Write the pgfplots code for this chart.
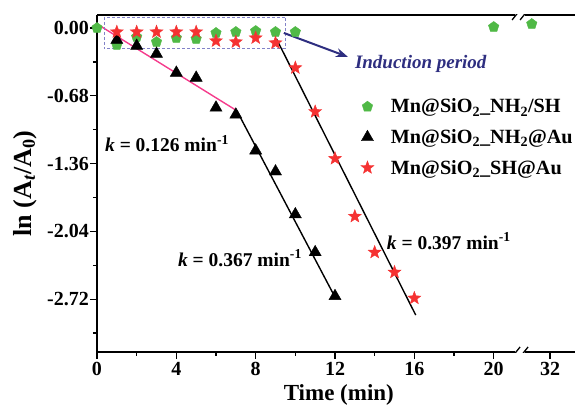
\documentclass[border=0pt]{standalone}
\usepackage{pgfplots}
\pgfplotsset{compat=1.18}
\usepackage{fontspec}
\setmainfont{Liberation Serif}
\usetikzlibrary{arrows.meta}

\definecolor{ptgreen}{RGB}{80,185,70}
\definecolor{ptred}{RGB}{245,50,50}
\definecolor{fitpink}{RGB}{245,60,140}
\definecolor{navy}{RGB}{46,46,128}
\definecolor{boxblue}{RGB}{130,130,200}

% filled five-pointed star
\pgfdeclareplotmark{fstar}{%
  \pgfpathmoveto{\pgfpointpolar{90}{\pgfplotmarksize}}%
  \pgfpathlineto{\pgfpointpolar{126}{0.42\pgfplotmarksize}}%
  \pgfpathlineto{\pgfpointpolar{162}{\pgfplotmarksize}}%
  \pgfpathlineto{\pgfpointpolar{198}{0.42\pgfplotmarksize}}%
  \pgfpathlineto{\pgfpointpolar{234}{\pgfplotmarksize}}%
  \pgfpathlineto{\pgfpointpolar{270}{0.42\pgfplotmarksize}}%
  \pgfpathlineto{\pgfpointpolar{306}{\pgfplotmarksize}}%
  \pgfpathlineto{\pgfpointpolar{342}{0.42\pgfplotmarksize}}%
  \pgfpathlineto{\pgfpointpolar{18}{\pgfplotmarksize}}%
  \pgfpathlineto{\pgfpointpolar{54}{0.42\pgfplotmarksize}}%
  \pgfpathclose
  \pgfusepathqfillstroke}

\begin{document}
\begin{tikzpicture}
\begin{axis}[
    width=478pt, height=337pt,
    scale only axis,
    xmin=0, xmax=24.1,
    ymin=-3.25, ymax=0.13,
    axis y line*=left,
    axis line style={line width=1.3pt},
    tick style={line width=1.3pt, black},
    tick align=outside,
    major tick length=7pt,
    minor tick length=4pt,
    xtick pos=bottom,
    xtick={0,4,8,12,16,20,22.84},
    xticklabels={0,4,8,12,16,20,32},
    minor xtick={2,6,10,14,18},
    ytick={0,-0.68,-1.36,-2.04,-2.72},
    yticklabels={0.00,-0.68,-1.36,-2.04,-2.72},
    minor ytick={-0.34,-1.02,-1.70,-2.38,-3.06},
    tick label style={font=\fontsize{20}{22}\selectfont\bfseries},
    yticklabel style={inner sep=1pt},
    xlabel={Time (min)},
    ylabel={ln (A\textsubscript{\textit{t}}/A\textsubscript{0})},
    xlabel style={font=\fontsize{23}{25}\selectfont\bfseries, at={(axis description cs:0.506,-0.128)}, anchor=center},
    ylabel style={font=\fontsize{26}{28}\selectfont\bfseries, at={(axis description cs:-0.1506,0.5)}, anchor=center},
    legend style={at={(axis cs:13.3,-0.69)}, anchor=north west, draw=none, fill=none,
        font=\fontsize{20.2}{22}\selectfont\bfseries, row sep=11pt, column sep=15pt, inner sep=0pt},
    legend cell align=left,
]

% fitted lines
\addplot[fitpink, line width=1.4pt, forget plot] coordinates {(0,0.04)(7.05,-0.83)};
\addplot[black, line width=1.4pt, forget plot] coordinates {(7.05,-0.83)(12,-2.70)};
\addplot[black, line width=1.4pt, forget plot] coordinates {(9.05,-0.11)(16.07,-2.88)};

\addplot[only marks, mark=pentagon*, mark size=5.5pt, color=ptgreen] coordinates {
(0,0)(1,-0.17)(2,-0.09)(3,-0.14)(4,-0.10)(5,-0.11)(6,-0.05)(7,-0.04)(8,-0.03)(9,-0.04)(10,-0.04)(20,0.01)(21.92,0.04)
};
\addlegendentry{Mn@SiO\textsubscript{2}\_NH\textsubscript{2}/SH}

\addplot[only marks, mark=triangle*, mark size=7pt, color=black] coordinates {
(1,-0.12)(2,-0.18)(3,-0.26)(4,-0.45)(5,-0.50)(6,-0.80)(7,-0.87)(8,-1.23)(9,-1.44)(10,-1.87)(11,-2.25)(12,-2.69)
};
\addlegendentry{Mn@SiO\textsubscript{2}\_NH\textsubscript{2}@Au}

\addplot[only marks, mark=fstar, mark size=6.8pt, color=ptred] coordinates {
(1,-0.04)(2,-0.04)(3,-0.04)(4,-0.04)(5,-0.04)(6,-0.13)(7,-0.14)(8,-0.10)(9,-0.15)(10,-0.40)(11,-0.84)(12,-1.31)(13,-1.89)(14,-2.25)(15,-2.45)(16,-2.71)
};
\addlegendentry{Mn@SiO\textsubscript{2}\_SH@Au}

% induction period box and arrow
\draw[boxblue, densely dashed, line width=0.8pt] (axis cs:0.37,0.11) rectangle (axis cs:9.48,-0.21);
\draw[navy, line width=2pt, -{Stealth[length=12pt,width=9pt]}] (axis cs:9.42,-0.05) -- (axis cs:12.65,-0.29);
\node[anchor=west, navy, font=\fontsize{19}{21}\selectfont\bfseries\itshape, inner sep=0pt] at (axis cs:13.0,-0.36) {Induction period};

% rate constants
\node[anchor=west, inner sep=0pt, font=\fontsize{19.5}{22}\selectfont\bfseries] at (axis cs:0.40,-1.16) {\textit{k} = 0.126 min\textsuperscript{-1}};
\node[anchor=west, inner sep=0pt, font=\fontsize{19.5}{22}\selectfont\bfseries] at (axis cs:4.08,-2.31) {\textit{k} = 0.367 min\textsuperscript{-1}};
\node[anchor=west, inner sep=0pt, font=\fontsize{19.5}{22}\selectfont\bfseries] at (axis cs:14.61,-2.14) {\textit{k} = 0.397 min\textsuperscript{-1}};

% axis breaks
\fill[white] ([shift={(-5pt,-3pt)}]axis cs:21.33,-3.25) rectangle ([shift={(5pt,3pt)}]axis cs:21.33,-3.25);
\fill[white] ([shift={(-5pt,-3pt)}]axis cs:21.33,0.13) rectangle ([shift={(5pt,3pt)}]axis cs:21.33,0.13);
\draw[line width=1.3pt] ([shift={(-8pt,-5pt)}]axis cs:21.33,-3.25) -- ++(8pt,10pt);
\draw[line width=1.3pt] ([shift={(0pt,-5pt)}]axis cs:21.33,-3.25) -- ++(8pt,10pt);
\draw[line width=1.3pt] ([shift={(-8pt,-5pt)}]axis cs:21.33,0.13) -- ++(8pt,10pt);
\draw[line width=1.3pt] ([shift={(0pt,-5pt)}]axis cs:21.33,0.13) -- ++(8pt,10pt);
\end{axis}
\pgfresetboundingbox
\path[use as bounding box] (-97pt,-57pt) rectangle (478pt,352pt);
\end{tikzpicture}
\end{document}
